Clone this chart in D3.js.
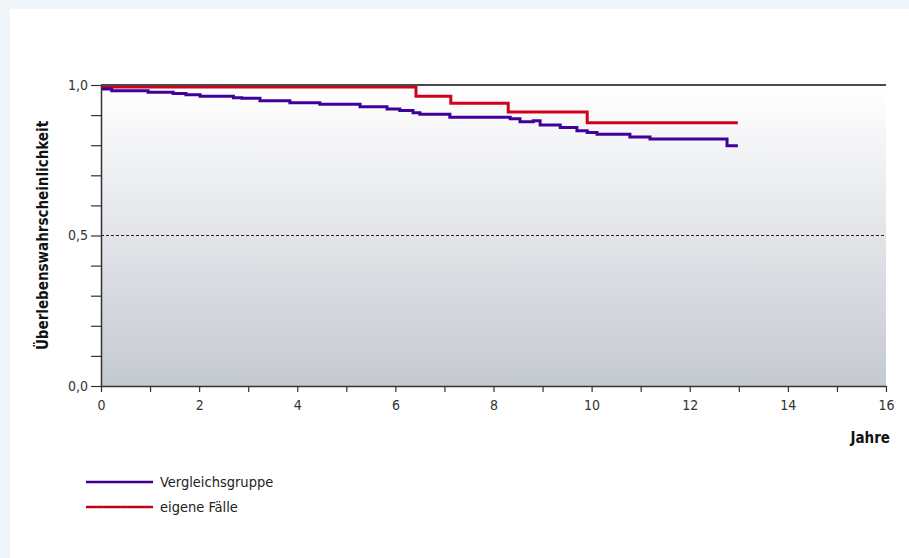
<!DOCTYPE html>
<html>
<head>
<meta charset="utf-8">
<script src="https://cdn.jsdelivr.net/npm/d3@7"></script>
<style>
  body { margin: 0; background: #eff5f8; }
  svg { display: block; }
  text { font-family: "Liberation Sans Narrow", "DejaVu Sans Condensed", "Liberation Sans", sans-serif; }
</style>
</head>
<body>
<svg id="chart" width="909" height="558"></svg>
<script>
// survival curves, step after each point (time in years, survival probability)
const vergleichTime = [0, 0.22, 0.96, 1.47, 1.73, 2.02, 2.70, 2.87, 3.24, 3.85, 4.46, 5.28, 5.83, 6.09, 6.36, 6.50, 7.11, 8.34, 8.54, 8.81, 8.95, 9.36, 9.70, 9.91, 10.11, 10.78, 11.19, 12.76, 12.98];
const vergleichValue = [0.987, 0.981, 0.976, 0.972, 0.968, 0.963, 0.958, 0.956, 0.948, 0.941, 0.936, 0.928, 0.920, 0.915, 0.908, 0.903, 0.893, 0.888, 0.878, 0.881, 0.867, 0.859, 0.848, 0.842, 0.836, 0.827, 0.821, 0.798, 0.798];
const eigeneTime = [0, 6.42, 7.13, 8.30, 9.91, 12.98];
const eigeneValue = [0.993, 0.963, 0.939, 0.910, 0.875, 0.875];

const xTicks = d3.range(0, 17, 1);
const xLabels = d3.range(0, 17, 2);
const yTicks = d3.range(0, 11, 1).map(d => d / 10);
const yLabels = [0, 0.5, 1];
const legendNames = ["Vergleichsgruppe", "eigene Fälle"];
const legendColors = ["#40009a", "#d0021b"];

const svg = d3.select("#chart");
const m = { left: 101, right: 886, top: 85, bottom: 386 };

const x = d3.scaleLinear().domain([0, 16]).range([m.left, m.right]);
const y = d3.scaleLinear().domain([0, 1]).range([m.bottom, m.top]);
const fmt = d => d3.format(".1f")(d).replace(".", ",");

// white panel
svg.append("rect").attr("x", 10).attr("y", 9).attr("width", 899).attr("height", 549).attr("fill", "#fff");

// plot background gradient
const grad = svg.append("defs").append("linearGradient")
  .attr("id", "bg").attr("x1", 0).attr("y1", 0).attr("x2", 0).attr("y2", 1);
grad.append("stop").attr("offset", "0%").attr("stop-color", "#ffffff");
grad.append("stop").attr("offset", "100%").attr("stop-color", "#c5c9d1");
svg.append("rect").attr("x", m.left).attr("y", m.top)
  .attr("width", m.right - m.left).attr("height", m.bottom - m.top).attr("fill", "url(#bg)");

// 0,5 reference line
svg.append("line")
  .attr("x1", m.left).attr("x2", m.right).attr("y1", y(0.5)).attr("y2", y(0.5))
  .attr("stroke", "#222").attr("stroke-width", 1).attr("stroke-dasharray", "3,2");

// curves
const line = d3.line().x(d => x(d[0])).y(d => y(d[1])).curve(d3.curveStepAfter);
const vergleich = vergleichTime.map((t, i) => [t, vergleichValue[i]]);
const eigene = eigeneTime.map((t, i) => [t, eigeneValue[i]]);

svg.append("path").datum(eigene).attr("d", line)
  .attr("fill", "none").attr("stroke", legendColors[1]).attr("stroke-width", 3);
svg.append("path").datum(vergleich).attr("d", line)
  .attr("fill", "none").attr("stroke", legendColors[0]).attr("stroke-width", 3);

// top border
svg.append("line").attr("x1", m.left).attr("x2", m.right).attr("y1", m.top).attr("y2", m.top)
  .attr("stroke", "#4a4a4a").attr("stroke-width", 2);

// axes
const xAxis = svg.append("g").attr("transform", `translate(0,${m.bottom})`)
  .call(d3.axisBottom(x).tickValues(xTicks).tickSize(6).tickSizeOuter(0)
    .tickFormat(d => xLabels.includes(d) ? d : ""));
const yAxis = svg.append("g").attr("transform", `translate(${m.left},0)`)
  .call(d3.axisLeft(y).tickValues(yTicks).tickSize(10).tickSizeOuter(0)
    .tickFormat(d => yLabels.includes(d) ? fmt(d) : ""));

[xAxis, yAxis].forEach(g => {
  g.select(".domain").attr("stroke", "#333").attr("stroke-width", 1.5);
  g.selectAll(".tick line").attr("stroke", "#333").attr("stroke-width", 1.2);
  g.selectAll(".tick text").attr("fill", "#333").style("font-size", "14px")
    .style("font-family", "'Liberation Sans Narrow', 'DejaVu Sans Condensed', sans-serif");
});
xAxis.selectAll(".tick text").attr("y", 11).attr("dy", "0.95em");
yAxis.selectAll(".tick text").attr("x", -13);

// axis titles
svg.append("text")
  .attr("transform", `translate(48,${(m.top + m.bottom) / 2}) rotate(-90)`)
  .attr("text-anchor", "middle")
  .style("font-size", "15px").style("font-weight", "bold").attr("fill", "#111")
  .text("Überlebenswahrscheinlichkeit");
svg.append("text").attr("x", 890).attr("y", 443).attr("text-anchor", "end")
  .style("font-size", "15px").style("font-weight", "bold").attr("fill", "#111")
  .text("Jahre");

// legend
const leg = svg.append("g");
legendNames.forEach((name, i) => {
  const ly = 482 + i * 25;
  leg.append("line").attr("x1", 86).attr("x2", 153).attr("y1", ly).attr("y2", ly)
    .attr("stroke", legendColors[i]).attr("stroke-width", 2.5);
  leg.append("line").attr("x1", 86).attr("x2", 153).attr("y1", ly).attr("y2", ly)
    .attr("stroke", "#000").attr("stroke-opacity", 0.25).attr("stroke-width", 1)
    .attr("stroke-dasharray", "4,2");
  leg.append("text").attr("x", 160).attr("y", ly + 5)
    .style("font-size", "14.5px").attr("fill", "#222").text(name);
});
</script>
</body>
</html>
